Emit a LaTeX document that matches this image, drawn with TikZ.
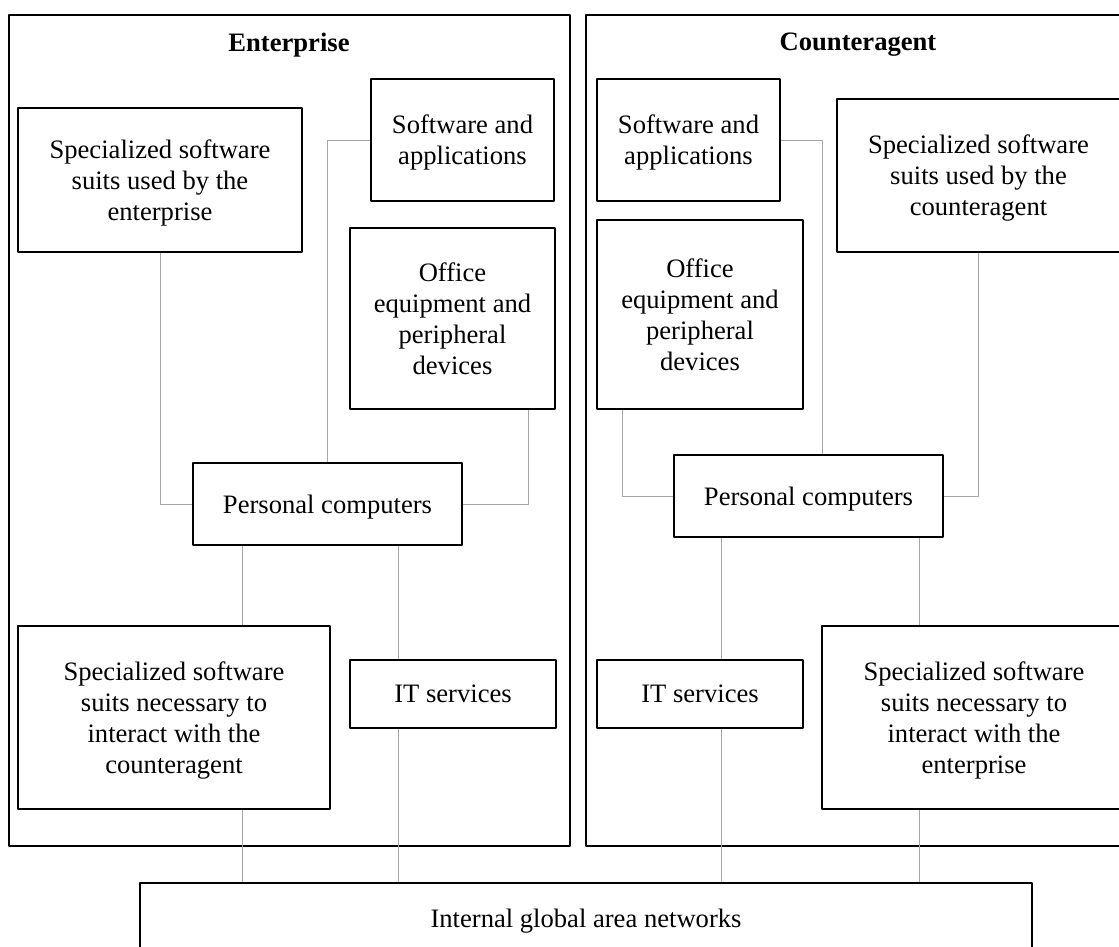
\documentclass[tikz,border=0pt]{standalone}
\usepackage{fontspec}
\setmainfont{Liberation Serif}
\usetikzlibrary{calc}

\begin{document}
\begin{tikzpicture}[x=0.5pt,y=-0.5pt,line join=round,
  box/.style 2 args={draw,line width=0.6pt,fill=white,align=center,inner sep=0pt,text depth=0pt,
    minimum width=#1*0.5pt,minimum height=#2*0.5pt,font=\fontsize{13.3}{15.5}\selectfont},
  frame/.style={draw,line width=0.75pt},
  head/.style={text depth=0pt,font=\bfseries\fontsize{13.3}{15.5}\selectfont},
  link/.style={draw=black!35,line width=0.45pt}]

% ===== 画幅 (1 单位 = 1 像素) =====
\useasboundingbox (0,0) rectangle (1119,947);
\clip (0,0) rectangle (1119,947);

% ===== 外框 =====
\draw[frame] (9,15) rectangle (570,846);
\draw[frame] (586,15) rectangle (1130,846);
\node[head] (tE) at (289,42) {Enterprise};
\node[head] (tC) at (858,42) {Counteragent};

% ===== Enterprise =====
\node[box={284}{144}] (spuE) at (160,180) {Specialized software\\suits used by the\\enterprise};
\node[box={183}{122}] (swE) at (462.5,140) {Software and\\applications};
\node[box={205}{181}] (offE) at (452.5,318.5) {Office\\equipment and\\peripheral\\devices};
\node[box={269}{82}] (pcE) at (327.5,504) {Personal computers};
\node[box={312}{183}] (spnE) at (174,717.5) {Specialized software\\suits necessary to\\interact with the\\counteragent};
\node[box={206}{68}] (itE) at (453,694) {IT services};

% ===== Counteragent =====
\node[box={183}{122}] (swC) at (688.5,140) {Software and\\applications};
\node[box={206}{189}] (offC) at (700,314.5) {Office\\equipment and\\peripheral\\devices};
\node[box={283}{153}] (spuC) at (978.5,175.5) {Specialized software\\suits used by the\\counteragent};
\node[box={269}{82}] (pcC) at (808.5,496) {Personal computers};
\node[box={206}{68}] (itC) at (700,694) {IT services};
\node[box={304}{183}] (spnC) at (974,717.5) {Specialized software\\suits necessary to\\interact with the\\enterprise};

% ===== 公共网络 =====
\node[box={892}{70}] (net) at (586,918) {Internal global area networks};

% ===== 连线的竖直位置 =====
\coordinate (e1) at (242,0);
\coordinate (e2) at (398,0);
\coordinate (e3) at (528,0);
\coordinate (c1) at (721,0);
\coordinate (c2) at (919,0);
\coordinate (c3) at (822,0);
\coordinate (c4) at (622,0);

% ===== 连线 (Enterprise) =====
\draw[link] (spuE.south) |- (pcE.west);
\draw[link] (swE.west) -| (pcE.north);
\draw[link] (offE.south -| e3) |- (pcE.east);
\draw[link] (pcE.south -| e1) -- (spnE.north -| e1);
\draw[link] (spnE.south -| e1) -- (net.north -| e1);
\draw[link] (pcE.south -| e2) -- (itE.north -| e2);
\draw[link] (itE.south -| e2) -- (net.north -| e2);

% ===== 连线 (Counteragent) =====
\draw[link] (swC.east) -| (pcC.north -| c3);
\draw[link] (offC.south -| c4) |- (pcC.west);
\draw[link] (spuC.south) |- (pcC.east);
\draw[link] (pcC.south -| c1) -- (itC.north -| c1);
\draw[link] (itC.south -| c1) -- (net.north -| c1);
\draw[link] (pcC.south -| c2) -- (spnC.north -| c2);
\draw[link] (spnC.south -| c2) -- (net.north -| c2);

\end{tikzpicture}
\end{document}
